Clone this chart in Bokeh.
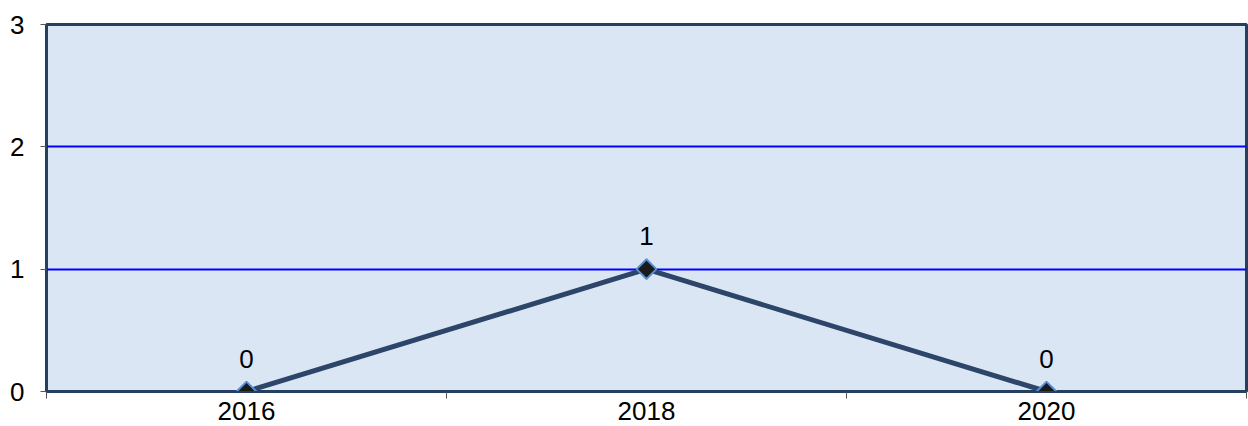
import numpy as np
from bokeh.plotting import figure
from bokeh.models import FixedTicker, ColumnDataSource, Range1d
from bokeh.core.properties import value
from bokeh.embed import file_html
from bokeh.resources import INLINE

categories = ["2016", "2018", "2020"]
counts = [0, 1, 0]
y_ticks = [0, 1, 2, 3]
grid_ticks = [1, 2]

xs = np.arange(len(categories)) + 0.5
src = ColumnDataSource(dict(x=xs, y=counts, lab=[str(v) for v in counts]))

p = figure(width=1248, height=426, output_backend="svg", toolbar_location=None,
           x_range=Range1d(0, len(categories)), y_range=Range1d(0, 3),
           min_border_left=46, min_border_right=2, min_border_top=24, min_border_bottom=35)

p.background_fill_color = "#DBE6F4"
p.border_fill_color = "white"
p.outline_line_color = "#243F60"
p.outline_line_width = 3

FONT = "Liberation Sans"

# x axis
p.xaxis.ticker = FixedTicker(ticks=list(xs), minor_ticks=list(range(len(categories) + 1)))
p.xaxis.major_label_overrides = {float(x): c for x, c in zip(xs, categories)}
p.xaxis.major_tick_out = 0
p.xaxis.major_tick_in = 0
p.xaxis.minor_tick_out = 7
p.xaxis.minor_tick_in = 0
p.xaxis.minor_tick_line_color = "#555555"
p.xaxis.axis_line_color = "#243F60"
p.xaxis.major_label_text_font = FONT
p.xaxis.major_label_text_font_size = "26px"
p.xaxis.major_label_text_color = "black"
p.xaxis.major_label_standoff = 3

# y axis
p.yaxis.ticker = FixedTicker(ticks=y_ticks)
p.yaxis.major_tick_out = 6
p.yaxis.major_tick_in = 0
p.yaxis.minor_tick_line_color = None
p.yaxis.major_tick_line_color = "#555555"
p.yaxis.axis_line_color = "#243F60"
p.yaxis.major_label_text_font = FONT
p.yaxis.major_label_text_font_size = "26px"
p.yaxis.major_label_text_color = "black"
p.yaxis.major_label_standoff = 16

p.xgrid.grid_line_color = None
p.ygrid.ticker = FixedTicker(ticks=grid_ticks)
p.ygrid.grid_line_color = "#0000FF"
p.ygrid.grid_line_width = 2

p.line("x", "y", source=src, line_color="#2D4568", line_width=5)
p.scatter("x", "y", source=src, marker="square", angle=np.pi / 4, size=14,
          fill_color="#1A1A1A", line_color="#5B8FD0", line_width=2)
p.text("x", "y", text="lab", source=src, text_font=value(FONT), text_font_size="26px",
       text_align="center", text_baseline="alphabetic", y_offset=-33, text_color="black")

open("out.html", "w").write(file_html(p, INLINE))
